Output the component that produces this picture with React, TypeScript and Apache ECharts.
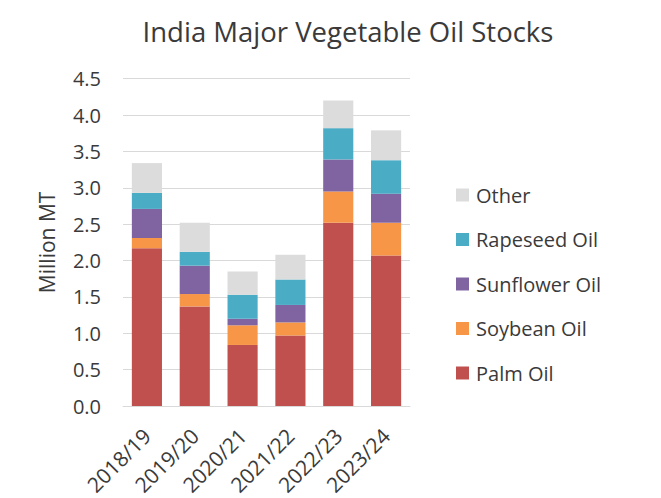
import React, { useEffect, useRef } from "react";
import * as echarts from "echarts";

const categories = ["2018/19", "2019/20", "2020/21", "2021/22", "2022/23", "2023/24"];
const palmOil = [2.17, 1.37, 0.84, 0.97, 2.52, 2.07];
const soybeanOil = [0.14, 0.17, 0.27, 0.18, 0.43, 0.45];
const sunflowerOil = [0.40, 0.39, 0.09, 0.24, 0.44, 0.40];
const rapeseedOil = [0.22, 0.19, 0.33, 0.35, 0.43, 0.46];
const other = [0.41, 0.40, 0.32, 0.34, 0.38, 0.41];
const legendOrder = ["Other", "Rapeseed Oil", "Sunflower Oil", "Soybean Oil", "Palm Oil"];

const FONT = "Open Sans";
const TXT = "#3a3a3a";

export default function App() {
  const ref = useRef<HTMLDivElement>(null);
  useEffect(() => {
    if (!ref.current) return;
    const chart = echarts.init(ref.current, null, { renderer: "svg" });
    const mk = (name: string, data: number[], color: string) => ({
      name,
      type: "bar",
      stack: "total",
      data,
      barCategoryGap: "37%",
      itemStyle: { color },
    });
    chart.setOption({
      animation: false,
      backgroundColor: "#ffffff",
      title: {
        text: "India Major Vegetable Oil Stocks",
        left: 343,
        top: 12,
        textAlign: "center",
        textStyle: { fontFamily: FONT, fontSize: 27.5, fontWeight: "normal", color: TXT },
      },
      legend: {
        data: legendOrder,
        orient: "vertical",
        left: 451,
        top: 180,
        itemGap: 24.5,
        itemWidth: 13,
        itemHeight: 13,
        icon: "rect",
        textStyle: { fontFamily: FONT, fontSize: 20, color: TXT, padding: [0, 0, 0, 2] },
      },
      grid: { left: 123, right: 251, top: 78.7, bottom: 90.3, containLabel: false },
      xAxis: {
        type: "category",
        data: categories,
        axisTick: { show: false },
        axisLine: { lineStyle: { color: "#d9d9d9", width: 1 } },
        axisLabel: {
          rotate: 45,
          fontFamily: FONT,
          fontSize: 21,
          color: TXT,
          margin: 26,
          interval: 0,
        },
      },
      yAxis: {
        type: "value",
        min: 0,
        max: 4.5,
        interval: 0.5,
        name: "Million MT",
        nameLocation: "middle",
        nameGap: 66,
        nameTextStyle: { fontFamily: FONT, fontSize: 21, color: TXT },
        axisLine: { show: false },
        axisTick: { show: false },
        splitLine: { lineStyle: { color: "#d9d9d9", width: 1 } },
        axisLabel: {
          formatter: (v: number) => v.toFixed(1),
          fontFamily: FONT,
          fontSize: 20,
          color: TXT,
          margin: 22,
        },
      },
      series: [
        mk("Palm Oil", palmOil, "#c0504d"),
        mk("Soybean Oil", soybeanOil, "#f79646"),
        mk("Sunflower Oil", sunflowerOil, "#8064a2"),
        mk("Rapeseed Oil", rapeseedOil, "#4bacc6"),
        mk("Other", other, "#dcdcdc"),
      ],
    });
    return () => chart.dispose();
  }, []);
  return (
    <div
      ref={ref}
      style={{ position: "absolute", left: 0, top: 0, width: 661, height: 498 }}
    />
  );
}
